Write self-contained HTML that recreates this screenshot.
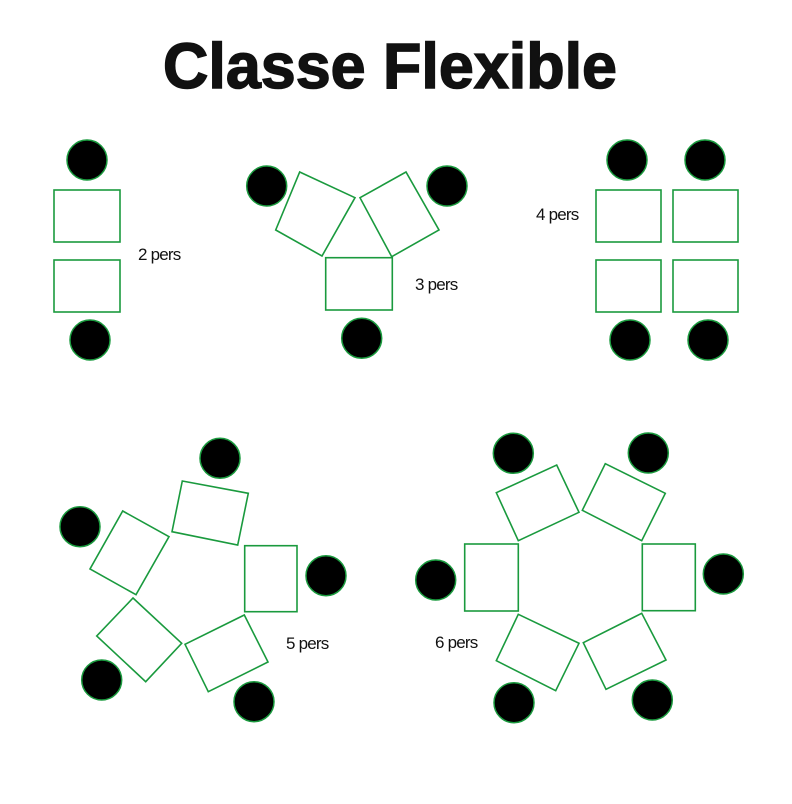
<!DOCTYPE html>
<html><head><meta charset="utf-8"><style>html,body{margin:0;padding:0;background:#fff}svg{display:block}</style></head>
<body>
<svg width="792" height="804" viewBox="0 0 792 804" xmlns="http://www.w3.org/2000/svg">
<text x="163" y="88" font-family="Liberation Sans, sans-serif" font-weight="bold" font-size="64" textLength="454" lengthAdjust="spacingAndGlyphs" fill="#111" stroke="#111" stroke-width="1.5">Classe Flexible</text>
<g fill="none" stroke="#1a9a3e" stroke-width="1.6">
<rect x="54" y="190" width="66" height="52"/>
<rect x="54" y="260" width="66" height="52"/>
<polygon points="299.7,172 355,197.7 322,256 275.7,230"/>
<polygon points="360,197.7 406,172 439,230 391.7,256.7"/>
<rect x="325.7" y="257.7" width="66.6" height="52.3"/>
<rect x="596" y="190" width="65" height="52"/>
<rect x="673" y="190" width="65" height="52"/>
<rect x="596" y="260" width="65" height="52"/>
<rect x="673" y="260" width="65" height="52"/>
<polygon points="182.3,481 248.3,493.3 237.7,545 172,531.7"/>
<polygon points="122.7,511 169,536.7 136,594.7 90,569"/>
<rect x="244.7" y="545.7" width="52.3" height="66"/>
<polygon points="185,644.3 244.3,615 268,662 208.3,691.7"/>
<polygon points="133,598 181.7,643.3 145.7,681.7 96.7,636"/>
<polygon points="496.3,492.7 556.7,465 579,512.3 518.3,540.7"/>
<polygon points="582.3,510.3 605.3,463.7 665.3,493.3 641.7,540.7"/>
<rect x="464.7" y="544" width="53.6" height="67"/>
<rect x="642.3" y="544" width="53" height="66.7"/>
<polygon points="518.3,614.3 579,643.3 555.7,690.7 496.3,660.7"/>
<polygon points="583.3,642.7 641.7,613.3 666,660 606,689.3"/>
</g>
<g fill="#000" stroke="#1a9a3e" stroke-width="1.5">
<circle cx="87" cy="160" r="20"/><circle cx="90" cy="340" r="20"/>
<circle cx="266.7" cy="186" r="20"/><circle cx="447" cy="186" r="20"/><circle cx="361.7" cy="338.3" r="20"/>
<circle cx="627" cy="160" r="20"/><circle cx="705" cy="160" r="20"/><circle cx="630" cy="340" r="20"/><circle cx="708" cy="340" r="20"/>
<circle cx="220" cy="458.3" r="20"/><circle cx="80" cy="526.7" r="20"/><circle cx="326" cy="575.7" r="20"/><circle cx="101.7" cy="680" r="20"/><circle cx="254" cy="701.7" r="20"/>
<circle cx="513.3" cy="453.3" r="20"/><circle cx="648.3" cy="453" r="20"/><circle cx="435.7" cy="580" r="20"/><circle cx="723.3" cy="574" r="20"/><circle cx="514" cy="702.7" r="20"/><circle cx="652.3" cy="700" r="20"/>
</g>
<g font-family="Liberation Sans, sans-serif" font-size="17" fill="#111" letter-spacing="-0.8">
<text x="138" y="260">2 pers</text>
<text x="415" y="290">3 pers</text>
<text x="536" y="220">4 pers</text>
<text x="286" y="649">5 pers</text>
<text x="435" y="648">6 pers</text>
</g>
</svg>
</body></html>
